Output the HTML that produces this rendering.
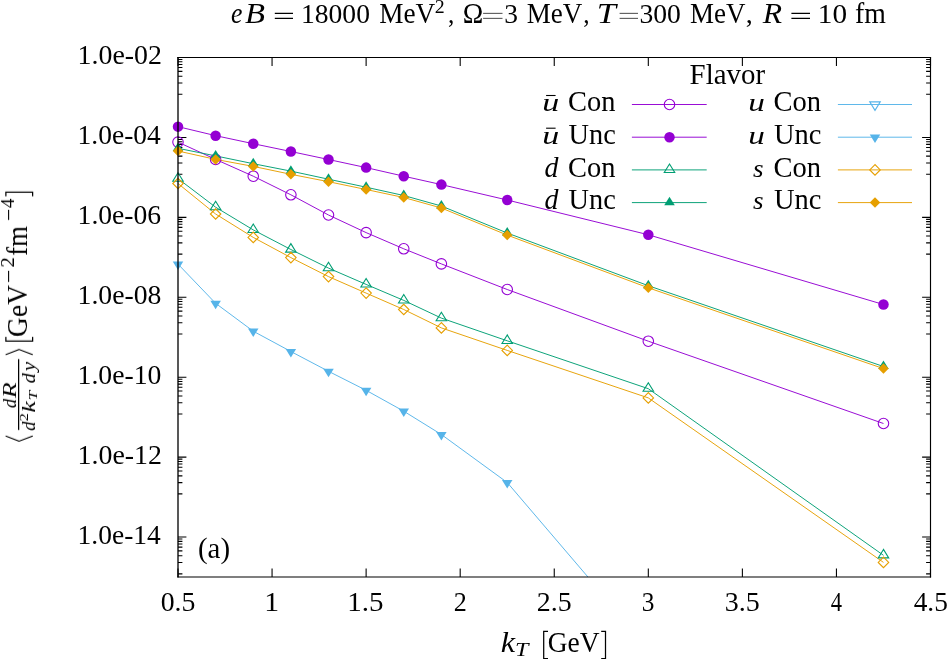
<!DOCTYPE html>
<html><head><meta charset="utf-8"><title>plot</title><style>html,body{margin:0;padding:0;background:#fff}body{width:947px;height:659px;overflow:hidden;font-family:"Liberation Serif",serif}</style></head><body>
<svg width="947" height="659" viewBox="0 0 947 659" style="display:block">
<rect width="947" height="659" fill="#fff"/>
<defs><clipPath id="cp"><rect x="178.0" y="57.5" width="752.5" height="519.5"/></clipPath></defs>
<path d="M178.00 577.0 v-8.4 M178.00 57.5 v8.4 M272.06 577.0 v-8.4 M272.06 57.5 v8.4 M366.12 577.0 v-8.4 M366.12 57.5 v8.4 M460.19 577.0 v-8.4 M460.19 57.5 v8.4 M554.25 577.0 v-8.4 M554.25 57.5 v8.4 M648.31 577.0 v-8.4 M648.31 57.5 v8.4 M742.38 577.0 v-8.4 M742.38 57.5 v8.4 M836.44 577.0 v-8.4 M836.44 57.5 v8.4 M930.50 577.0 v-8.4 M930.50 57.5 v8.4 M178.0 57.50 h8.4 M930.5 57.50 h-8.4 M178.0 137.42 h8.4 M930.5 137.42 h-8.4 M178.0 217.35 h8.4 M930.5 217.35 h-8.4 M178.0 297.27 h8.4 M930.5 297.27 h-8.4 M178.0 377.19 h8.4 M930.5 377.19 h-8.4 M178.0 457.12 h8.4 M930.5 457.12 h-8.4 M178.0 537.04 h8.4 M930.5 537.04 h-8.4 M178.0 94.30 h4.4 M930.5 94.30 h-4.4 M178.0 83.01 h4.4 M930.5 83.01 h-4.4 M178.0 76.22 h4.4 M930.5 76.22 h-4.4 M178.0 71.36 h4.4 M930.5 71.36 h-4.4 M178.0 67.56 h4.4 M930.5 67.56 h-4.4 M178.0 64.45 h4.4 M930.5 64.45 h-4.4 M178.0 61.81 h4.4 M930.5 61.81 h-4.4 M178.0 59.52 h4.4 M930.5 59.52 h-4.4 M178.0 174.22 h4.4 M930.5 174.22 h-4.4 M178.0 162.93 h4.4 M930.5 162.93 h-4.4 M178.0 156.15 h4.4 M930.5 156.15 h-4.4 M178.0 151.28 h4.4 M930.5 151.28 h-4.4 M178.0 147.49 h4.4 M930.5 147.49 h-4.4 M178.0 144.37 h4.4 M930.5 144.37 h-4.4 M178.0 141.74 h4.4 M930.5 141.74 h-4.4 M178.0 139.45 h4.4 M930.5 139.45 h-4.4 M178.0 254.14 h4.4 M930.5 254.14 h-4.4 M178.0 242.85 h4.4 M930.5 242.85 h-4.4 M178.0 236.07 h4.4 M930.5 236.07 h-4.4 M178.0 231.20 h4.4 M930.5 231.20 h-4.4 M178.0 227.41 h4.4 M930.5 227.41 h-4.4 M178.0 224.30 h4.4 M930.5 224.30 h-4.4 M178.0 221.66 h4.4 M930.5 221.66 h-4.4 M178.0 219.37 h4.4 M930.5 219.37 h-4.4 M178.0 334.07 h4.4 M930.5 334.07 h-4.4 M178.0 322.78 h4.4 M930.5 322.78 h-4.4 M178.0 315.99 h4.4 M930.5 315.99 h-4.4 M178.0 311.13 h4.4 M930.5 311.13 h-4.4 M178.0 307.33 h4.4 M930.5 307.33 h-4.4 M178.0 304.22 h4.4 M930.5 304.22 h-4.4 M178.0 301.58 h4.4 M930.5 301.58 h-4.4 M178.0 299.29 h4.4 M930.5 299.29 h-4.4 M178.0 413.99 h4.4 M930.5 413.99 h-4.4 M178.0 402.70 h4.4 M930.5 402.70 h-4.4 M178.0 395.92 h4.4 M930.5 395.92 h-4.4 M178.0 391.05 h4.4 M930.5 391.05 h-4.4 M178.0 387.26 h4.4 M930.5 387.26 h-4.4 M178.0 384.14 h4.4 M930.5 384.14 h-4.4 M178.0 381.50 h4.4 M930.5 381.50 h-4.4 M178.0 379.21 h4.4 M930.5 379.21 h-4.4 M178.0 493.91 h4.4 M930.5 493.91 h-4.4 M178.0 482.62 h4.4 M930.5 482.62 h-4.4 M178.0 475.84 h4.4 M930.5 475.84 h-4.4 M178.0 470.97 h4.4 M930.5 470.97 h-4.4 M178.0 467.18 h4.4 M930.5 467.18 h-4.4 M178.0 464.07 h4.4 M930.5 464.07 h-4.4 M178.0 461.43 h4.4 M930.5 461.43 h-4.4 M178.0 459.14 h4.4 M930.5 459.14 h-4.4 M178.0 573.84 h4.4 M930.5 573.84 h-4.4 M178.0 562.54 h4.4 M930.5 562.54 h-4.4 M178.0 555.76 h4.4 M930.5 555.76 h-4.4 M178.0 550.90 h4.4 M930.5 550.90 h-4.4 M178.0 547.10 h4.4 M930.5 547.10 h-4.4 M178.0 543.99 h4.4 M930.5 543.99 h-4.4 M178.0 541.35 h4.4 M930.5 541.35 h-4.4 M178.0 539.06 h4.4 M930.5 539.06 h-4.4" stroke="#000" stroke-width="1.08" fill="none"/>
<g clip-path="url(#cp)">
<polyline points="178.00,142.10 215.62,159.40 253.25,176.20 290.88,194.80 328.50,215.00 366.12,232.60 403.75,248.80 441.38,263.90 507.22,289.50 648.31,341.20 883.47,423.50" fill="none" stroke="#9400d3" stroke-width="0.95" stroke-linejoin="round"/>
<polyline points="178.00,126.65 215.62,135.67 253.25,143.70 290.88,151.50 328.50,159.50 366.12,167.60 403.75,176.20 441.38,184.60 507.22,200.00 648.31,234.75 883.47,304.50" fill="none" stroke="#9400d3" stroke-width="0.95" stroke-linejoin="round"/>
<polyline points="178.00,178.60 215.62,207.20 253.25,229.90 290.88,249.50 328.50,268.10 366.12,284.40 403.75,300.40 441.38,318.10 507.22,340.80 648.31,388.70 883.47,555.30" fill="none" stroke="#009e73" stroke-width="0.95" stroke-linejoin="round"/>
<polyline points="178.00,148.30 215.62,155.90 253.25,163.70 290.88,171.10 328.50,179.20 366.12,187.20 403.75,195.50 441.38,206.00 507.22,233.00 648.31,285.70 883.47,366.50" fill="none" stroke="#009e73" stroke-width="0.95" stroke-linejoin="round"/>
<polyline points="178.00,264.10 215.62,303.30 253.25,331.20 290.88,351.50 328.50,371.30 366.12,390.30 403.75,411.20 441.38,434.50 507.22,482.50 648.31,647.70" fill="none" stroke="#56b4e9" stroke-width="0.95" stroke-linejoin="round"/>
<polyline points="178.00,183.50 215.62,214.00 253.25,237.40 290.88,257.60 328.50,276.60 366.12,293.10 403.75,309.50 441.38,327.90 507.22,350.40 648.31,397.90 883.47,562.40" fill="none" stroke="#e69f00" stroke-width="0.95" stroke-linejoin="round"/>
<polyline points="178.00,151.00 215.62,159.40 253.25,166.40 290.88,174.30 328.50,181.70 366.12,189.50 403.75,197.50 441.38,208.00 507.22,235.10 648.31,287.80 883.47,368.60" fill="none" stroke="#e69f00" stroke-width="0.95" stroke-linejoin="round"/>
</g>
<circle cx="178.00" cy="142.10" r="5.25" fill="none" stroke="#9400d3" stroke-width="1.1"/>
<circle cx="215.62" cy="159.40" r="5.25" fill="none" stroke="#9400d3" stroke-width="1.1"/>
<circle cx="253.25" cy="176.20" r="5.25" fill="none" stroke="#9400d3" stroke-width="1.1"/>
<circle cx="290.88" cy="194.80" r="5.25" fill="none" stroke="#9400d3" stroke-width="1.1"/>
<circle cx="328.50" cy="215.00" r="5.25" fill="none" stroke="#9400d3" stroke-width="1.1"/>
<circle cx="366.12" cy="232.60" r="5.25" fill="none" stroke="#9400d3" stroke-width="1.1"/>
<circle cx="403.75" cy="248.80" r="5.25" fill="none" stroke="#9400d3" stroke-width="1.1"/>
<circle cx="441.38" cy="263.90" r="5.25" fill="none" stroke="#9400d3" stroke-width="1.1"/>
<circle cx="507.22" cy="289.50" r="5.25" fill="none" stroke="#9400d3" stroke-width="1.1"/>
<circle cx="648.31" cy="341.20" r="5.25" fill="none" stroke="#9400d3" stroke-width="1.1"/>
<circle cx="883.47" cy="423.50" r="5.25" fill="none" stroke="#9400d3" stroke-width="1.1"/>
<circle cx="178.00" cy="126.65" r="5.25" fill="#9400d3"/>
<circle cx="215.62" cy="135.67" r="5.25" fill="#9400d3"/>
<circle cx="253.25" cy="143.70" r="5.25" fill="#9400d3"/>
<circle cx="290.88" cy="151.50" r="5.25" fill="#9400d3"/>
<circle cx="328.50" cy="159.50" r="5.25" fill="#9400d3"/>
<circle cx="366.12" cy="167.60" r="5.25" fill="#9400d3"/>
<circle cx="403.75" cy="176.20" r="5.25" fill="#9400d3"/>
<circle cx="441.38" cy="184.60" r="5.25" fill="#9400d3"/>
<circle cx="507.22" cy="200.00" r="5.25" fill="#9400d3"/>
<circle cx="648.31" cy="234.75" r="5.25" fill="#9400d3"/>
<circle cx="883.47" cy="304.50" r="5.25" fill="#9400d3"/>
<polygon points="178.00,172.72 172.75,181.22 183.25,181.22" fill="none" stroke="#009e73" stroke-width="1.1"/>
<polygon points="215.62,201.32 210.38,209.82 220.88,209.82" fill="none" stroke="#009e73" stroke-width="1.1"/>
<polygon points="253.25,224.02 248.00,232.53 258.50,232.53" fill="none" stroke="#009e73" stroke-width="1.1"/>
<polygon points="290.88,243.62 285.62,252.12 296.12,252.12" fill="none" stroke="#009e73" stroke-width="1.1"/>
<polygon points="328.50,262.22 323.25,270.73 333.75,270.73" fill="none" stroke="#009e73" stroke-width="1.1"/>
<polygon points="366.12,278.52 360.88,287.02 371.38,287.02" fill="none" stroke="#009e73" stroke-width="1.1"/>
<polygon points="403.75,294.52 398.50,303.02 409.00,303.02" fill="none" stroke="#009e73" stroke-width="1.1"/>
<polygon points="441.38,312.22 436.12,320.73 446.62,320.73" fill="none" stroke="#009e73" stroke-width="1.1"/>
<polygon points="507.22,334.92 501.97,343.43 512.47,343.43" fill="none" stroke="#009e73" stroke-width="1.1"/>
<polygon points="648.31,382.82 643.06,391.32 653.56,391.32" fill="none" stroke="#009e73" stroke-width="1.1"/>
<polygon points="883.47,549.42 878.22,557.92 888.72,557.92" fill="none" stroke="#009e73" stroke-width="1.1"/>
<polygon points="178.00,142.42 172.75,150.93 183.25,150.93" fill="#009e73"/>
<polygon points="215.62,150.02 210.38,158.53 220.88,158.53" fill="#009e73"/>
<polygon points="253.25,157.82 248.00,166.32 258.50,166.32" fill="#009e73"/>
<polygon points="290.88,165.22 285.62,173.72 296.12,173.72" fill="#009e73"/>
<polygon points="328.50,173.32 323.25,181.82 333.75,181.82" fill="#009e73"/>
<polygon points="366.12,181.32 360.88,189.82 371.38,189.82" fill="#009e73"/>
<polygon points="403.75,189.62 398.50,198.12 409.00,198.12" fill="#009e73"/>
<polygon points="441.38,200.12 436.12,208.62 446.62,208.62" fill="#009e73"/>
<polygon points="507.22,227.12 501.97,235.62 512.47,235.62" fill="#009e73"/>
<polygon points="648.31,279.82 643.06,288.32 653.56,288.32" fill="#009e73"/>
<polygon points="883.47,360.62 878.22,369.12 888.72,369.12" fill="#009e73"/>
<polygon points="178.00,269.98 172.75,261.48 183.25,261.48" fill="#56b4e9"/>
<polygon points="215.62,309.18 210.38,300.68 220.88,300.68" fill="#56b4e9"/>
<polygon points="253.25,337.08 248.00,328.57 258.50,328.57" fill="#56b4e9"/>
<polygon points="290.88,357.38 285.62,348.88 296.12,348.88" fill="#56b4e9"/>
<polygon points="328.50,377.18 323.25,368.68 333.75,368.68" fill="#56b4e9"/>
<polygon points="366.12,396.18 360.88,387.68 371.38,387.68" fill="#56b4e9"/>
<polygon points="403.75,417.08 398.50,408.57 409.00,408.57" fill="#56b4e9"/>
<polygon points="441.38,440.38 436.12,431.88 446.62,431.88" fill="#56b4e9"/>
<polygon points="507.22,488.38 501.97,479.88 512.47,479.88" fill="#56b4e9"/>
<polygon points="178.00,178.25 172.75,183.50 178.00,188.75 183.25,183.50" fill="none" stroke="#e69f00" stroke-width="1.1"/>
<polygon points="215.62,208.75 210.38,214.00 215.62,219.25 220.88,214.00" fill="none" stroke="#e69f00" stroke-width="1.1"/>
<polygon points="253.25,232.15 248.00,237.40 253.25,242.65 258.50,237.40" fill="none" stroke="#e69f00" stroke-width="1.1"/>
<polygon points="290.88,252.35 285.62,257.60 290.88,262.85 296.12,257.60" fill="none" stroke="#e69f00" stroke-width="1.1"/>
<polygon points="328.50,271.35 323.25,276.60 328.50,281.85 333.75,276.60" fill="none" stroke="#e69f00" stroke-width="1.1"/>
<polygon points="366.12,287.85 360.88,293.10 366.12,298.35 371.38,293.10" fill="none" stroke="#e69f00" stroke-width="1.1"/>
<polygon points="403.75,304.25 398.50,309.50 403.75,314.75 409.00,309.50" fill="none" stroke="#e69f00" stroke-width="1.1"/>
<polygon points="441.38,322.65 436.12,327.90 441.38,333.15 446.62,327.90" fill="none" stroke="#e69f00" stroke-width="1.1"/>
<polygon points="507.22,345.15 501.97,350.40 507.22,355.65 512.47,350.40" fill="none" stroke="#e69f00" stroke-width="1.1"/>
<polygon points="648.31,392.65 643.06,397.90 648.31,403.15 653.56,397.90" fill="none" stroke="#e69f00" stroke-width="1.1"/>
<polygon points="883.47,557.15 878.22,562.40 883.47,567.65 888.72,562.40" fill="none" stroke="#e69f00" stroke-width="1.1"/>
<polygon points="178.00,145.75 172.75,151.00 178.00,156.25 183.25,151.00" fill="#e69f00"/>
<polygon points="215.62,154.15 210.38,159.40 215.62,164.65 220.88,159.40" fill="#e69f00"/>
<polygon points="253.25,161.15 248.00,166.40 253.25,171.65 258.50,166.40" fill="#e69f00"/>
<polygon points="290.88,169.05 285.62,174.30 290.88,179.55 296.12,174.30" fill="#e69f00"/>
<polygon points="328.50,176.45 323.25,181.70 328.50,186.95 333.75,181.70" fill="#e69f00"/>
<polygon points="366.12,184.25 360.88,189.50 366.12,194.75 371.38,189.50" fill="#e69f00"/>
<polygon points="403.75,192.25 398.50,197.50 403.75,202.75 409.00,197.50" fill="#e69f00"/>
<polygon points="441.38,202.75 436.12,208.00 441.38,213.25 446.62,208.00" fill="#e69f00"/>
<polygon points="507.22,229.85 501.97,235.10 507.22,240.35 512.47,235.10" fill="#e69f00"/>
<polygon points="648.31,282.55 643.06,287.80 648.31,293.05 653.56,287.80" fill="#e69f00"/>
<polygon points="883.47,363.35 878.22,368.60 883.47,373.85 888.72,368.60" fill="#e69f00"/>
<path d="M631.9 104.5 H706.7" stroke="#9400d3" stroke-width="0.95"/>
<circle cx="669.50" cy="104.50" r="5.25" fill="none" stroke="#9400d3" stroke-width="1.1"/>
<path d="M631.9 137.2 H706.7" stroke="#9400d3" stroke-width="0.95"/>
<circle cx="669.50" cy="137.20" r="5.25" fill="#9400d3"/>
<path d="M631.9 169.9 H706.7" stroke="#009e73" stroke-width="0.95"/>
<polygon points="669.50,164.02 664.25,172.53 674.75,172.53" fill="none" stroke="#009e73" stroke-width="1.1"/>
<path d="M631.9 202.6 H706.7" stroke="#009e73" stroke-width="0.95"/>
<polygon points="669.50,196.72 664.25,205.22 674.75,205.22" fill="#009e73"/>
<path d="M837.9 104.5 H912" stroke="#56b4e9" stroke-width="0.95"/>
<polygon points="875.00,110.38 869.75,101.88 880.25,101.88" fill="none" stroke="#56b4e9" stroke-width="1.1"/>
<path d="M837.9 137.2 H912" stroke="#56b4e9" stroke-width="0.95"/>
<polygon points="875.00,143.08 869.75,134.57 880.25,134.57" fill="#56b4e9"/>
<path d="M837.9 169.9 H912" stroke="#e69f00" stroke-width="0.95"/>
<polygon points="875.00,164.65 869.75,169.90 875.00,175.15 880.25,169.90" fill="none" stroke="#e69f00" stroke-width="1.1"/>
<path d="M837.9 202.6 H912" stroke="#e69f00" stroke-width="0.95"/>
<polygon points="875.00,197.35 869.75,202.60 875.00,207.85 880.25,202.60" fill="#e69f00"/>
<path d="M178.0 56.9 V577.55" stroke="#000" stroke-width="1.32" fill="none"/>
<path d="M930.5 56.9 V577.55" stroke="#000" stroke-width="1.15" fill="none"/>
<path d="M177.34 57.5 H931.07" stroke="#000" stroke-width="1.2" fill="none"/>
<path d="M177.34 577.0 H931.07" stroke="#000" stroke-width="1.1" fill="none"/>
<g font-family="'Liberation Serif', serif" fill="#000" opacity="0.999">
<text transform="translate(231.03,22.90) scale(0.9040,1)" font-size="28.5" font-style="italic">e</text>
<text transform="translate(245.01,22.90) scale(1.1494,1)" font-size="28.5" font-style="italic">B</text>
<path d="M274.8 13.35 H293.0 M274.8 18.35 H293.0" stroke="#000" stroke-width="1.15" fill="none"/>
<text transform="translate(301.00,22.90) scale(0.9850,1)" font-size="28">18000</text>
<text transform="translate(379.24,22.90) scale(0.9573,1)" font-size="28.5">MeV</text>
<text transform="translate(434.64,12.70) scale(1.0934,1)" font-size="18.2">2</text>
<text transform="translate(447.94,22.90) scale(0.9048,1)" font-size="28">,</text>
<text transform="translate(462.69,22.90) scale(0.9689,1)" font-size="28.5">Ω</text>
<path d="M483.1 13.35 H502.5 M483.1 18.35 H502.5" stroke="#1a1a1a" stroke-width="0.8" fill="none"/>
<text transform="translate(504.21,22.90) scale(0.9834,1)" font-size="28">3</text>
<text transform="translate(526.84,22.90) scale(0.9486,1)" font-size="28.5">MeV</text>
<text transform="translate(583.24,22.90) scale(0.9048,1)" font-size="28">,</text>
<text transform="translate(596.76,22.90) scale(1.2099,1)" font-size="28.5" font-style="italic">T</text>
<path d="M619.6 13.35 H638.0 M619.6 18.35 H638.0" stroke="#1a1a1a" stroke-width="0.8" fill="none"/>
<text transform="translate(639.40,22.90) scale(0.9869,1)" font-size="28">300</text>
<text transform="translate(690.04,22.90) scale(0.9468,1)" font-size="28.5">MeV</text>
<text transform="translate(745.74,22.90) scale(1.0000,1)" font-size="28">,</text>
<text transform="translate(762.79,22.90) scale(1.1093,1)" font-size="28.5" font-style="italic">R</text>
<path d="M791.4 13.35 H810.0 M791.4 18.35 H810.0" stroke="#000" stroke-width="1.15" fill="none"/>
<text transform="translate(817.85,22.90) scale(1.0449,1)" font-size="28">10</text>
<text transform="translate(855.07,22.90) scale(0.9743,1)" font-size="28.5">fm</text>
<text transform="translate(77.58,64.30) scale(0.9953,1)" font-size="28">1.0e-02</text>
<text transform="translate(77.61,144.22) scale(0.9817,1)" font-size="28">1.0e-04</text>
<text transform="translate(77.60,224.15) scale(0.9864,1)" font-size="28">1.0e-06</text>
<text transform="translate(77.59,304.07) scale(0.9895,1)" font-size="28">1.0e-08</text>
<text transform="translate(77.59,383.99) scale(0.9895,1)" font-size="28">1.0e-10</text>
<text transform="translate(77.58,463.92) scale(0.9953,1)" font-size="28">1.0e-12</text>
<text transform="translate(77.61,543.84) scale(0.9817,1)" font-size="28">1.0e-14</text>
<text transform="translate(160.64,610.50) scale(0.9926,1)" font-size="28">0.5</text>
<text transform="translate(264.22,610.50) scale(1.0623,1)" font-size="28">1</text>
<text transform="translate(347.30,610.50) scale(1.0358,1)" font-size="28">1.5</text>
<text transform="translate(453.81,610.50) scale(0.9328,1)" font-size="28">2</text>
<text transform="translate(536.75,610.50) scale(0.9968,1)" font-size="28">2.5</text>
<text transform="translate(641.87,610.50) scale(0.9058,1)" font-size="28">3</text>
<text transform="translate(724.76,610.50) scale(1.0002,1)" font-size="28">3.5</text>
<text transform="translate(830.76,610.50) scale(0.8047,1)" font-size="28">4</text>
<text transform="translate(913.68,610.50) scale(0.9767,1)" font-size="28">4.5</text>
<text transform="translate(500.80,652.20) scale(1.1316,1)" font-size="28.5" font-style="italic">k</text>
<text transform="translate(515.03,656.10) scale(1.3410,1)" font-size="18" font-style="italic">T</text>
<path d="M548.0 631.3 H543.7 V658.6 H548.0" fill="none" stroke="#000" stroke-width="1.25"/>
<text transform="translate(547.77,652.20) scale(0.9632,1)" font-size="28.5">GeV</text>
<path d="M601.2 631.3 H605.5 V658.6 H601.2" fill="none" stroke="#000" stroke-width="1.25"/>
<text transform="translate(197.96,558.30) scale(1.0143,1)" font-size="28.5">(a)</text>
<text transform="translate(689.59,84.00) scale(1.0138,1)" font-size="28.5">Flavor</text>
<text transform="translate(542.14,111.30) scale(1.3868,1)" font-size="24.5" font-style="italic">u</text>
<path d="M546.1 95.50 H555.6" stroke="#000" stroke-width="1.1"/>
<text transform="translate(568.03,111.30) scale(0.9975,1)" font-size="28.5">Con</text>
<text transform="translate(542.14,144.00) scale(1.3868,1)" font-size="24.5" font-style="italic">u</text>
<path d="M546.1 128.20 H555.6" stroke="#000" stroke-width="1.1"/>
<text transform="translate(568.60,144.00) scale(0.9951,1)" font-size="28.5">Unc</text>
<text transform="translate(544.46,176.70) scale(0.9792,1)" font-size="28.5" font-style="italic">d</text>
<text transform="translate(568.03,176.70) scale(0.9975,1)" font-size="28.5">Con</text>
<text transform="translate(544.46,209.40) scale(0.9792,1)" font-size="28.5" font-style="italic">d</text>
<text transform="translate(568.60,209.40) scale(0.9951,1)" font-size="28.5">Unc</text>
<text transform="translate(748.37,111.30) scale(1.3573,1)" font-size="24.5" font-style="italic">u</text>
<text transform="translate(773.43,111.30) scale(1.0019,1)" font-size="28.5">Con</text>
<text transform="translate(748.37,144.00) scale(1.3573,1)" font-size="24.5" font-style="italic">u</text>
<text transform="translate(774.00,144.00) scale(0.9994,1)" font-size="28.5">Unc</text>
<text transform="translate(753.07,176.70) scale(1.0623,1)" font-size="25.5" font-style="italic">s</text>
<text transform="translate(773.43,176.70) scale(1.0019,1)" font-size="28.5">Con</text>
<text transform="translate(753.07,209.40) scale(1.0623,1)" font-size="25.5" font-style="italic">s</text>
<text transform="translate(774.00,209.40) scale(0.9994,1)" font-size="28.5">Unc</text>
<g transform="translate(0,441.8) rotate(-90)">
<path d="M5.8 5.6 L0.6 19.1 L5.8 32.7" fill="none" stroke="#000" stroke-width="1.1"/>
<path d="M11.8 18.7 H82.7" stroke="#000" stroke-width="1.2"/>
<text transform="translate(33.75,16.00) scale(0.9681,1)" font-size="19" font-style="italic">d</text>
<text transform="translate(43.80,16.00) scale(1.3500,1)" font-size="19" font-style="italic">R</text>
<text transform="translate(11.04,34.50) scale(0.9792,1)" font-size="19" font-style="italic">d</text>
<text transform="translate(20.49,27.60) scale(1.2629,1)" font-size="13">2</text>
<text transform="translate(29.29,34.50) scale(1.3433,1)" font-size="19" font-style="italic">k</text>
<text transform="translate(41.38,37.40) scale(1.3263,1)" font-size="13" font-style="italic">T</text>
<text transform="translate(58.39,34.50) scale(1.0682,1)" font-size="19" font-style="italic">d</text>
<text transform="translate(70.75,34.50) scale(1.0944,1)" font-size="19" font-style="italic">y</text>
<path d="M87.1 5.6 L92.3 19.1 L87.1 32.7" fill="none" stroke="#000" stroke-width="1.1"/>
<path d="M104.9 5.9 H100.7 V32.5 H104.9" fill="none" stroke="#000" stroke-width="1.25"/>
<text transform="translate(104.87,27.20) scale(0.9651,1)" font-size="28.5">GeV</text>
<path d="M159.8 8.6 H171.0" stroke="#000" stroke-width="1.1"/>
<text transform="translate(174.30,13.70) scale(1.1609,1)" font-size="18">2</text>
<text transform="translate(186.00,27.20) scale(0.9381,1)" font-size="28.5">fm</text>
<path d="M221.8 8.6 H232.0" stroke="#000" stroke-width="1.1"/>
<text transform="translate(233.64,13.70) scale(1.0610,1)" font-size="18">4</text>
<path d="M245.5 5.9 H249.6 V32.5 H245.5" fill="none" stroke="#000" stroke-width="1.25"/>
</g>
</g>
</svg>
</body></html>
